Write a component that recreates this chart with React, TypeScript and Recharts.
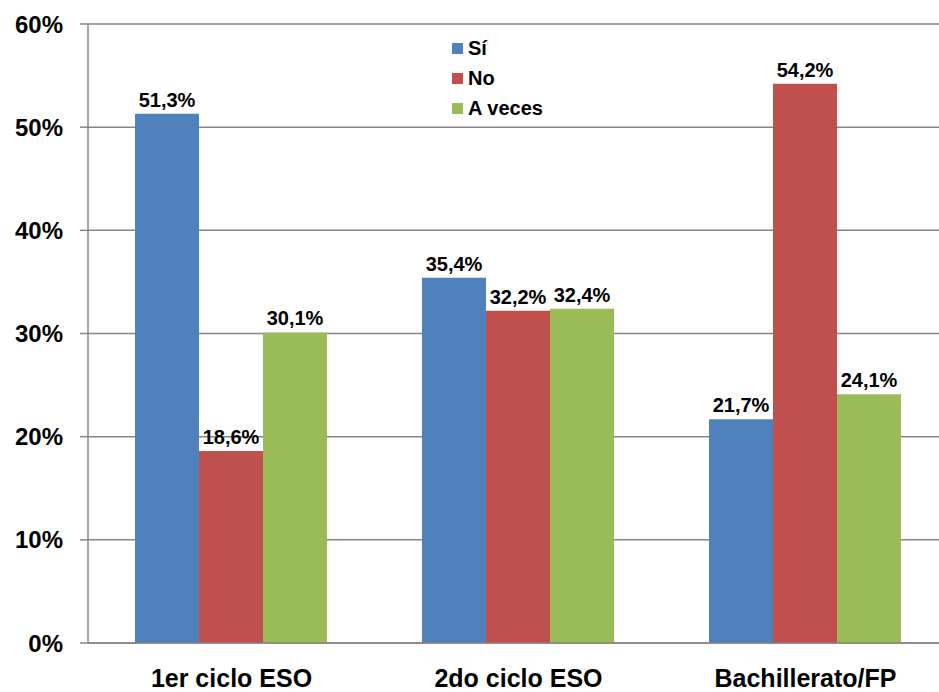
import React from 'react';
import { BarChart, Bar, XAxis, YAxis, CartesianGrid, LabelList } from 'recharts';

const categories = ['1er ciclo ESO', '2do ciclo ESO', 'Bachillerato/FP'];
const si = [51.3, 35.4, 21.7];
const no = [18.6, 32.2, 54.2];
const aVeces = [30.1, 32.4, 24.1];
const yTicks = [0, 10, 20, 30, 40, 50, 60];
const boundaryTicks = [0, 1, 2, 3];

const seriesKeys = ['si', 'no', 'av'];
const seriesNames = ['Sí', 'No', 'A veces'];
const colors = ['#4F81BD', '#C0504D', '#9BBB59'];

const data = categories.map((c, i) => ({ cat: c, idx: i + 0.5, si: si[i], no: no[i], av: aVeces[i] }));

const FONT = '"Liberation Sans", Arial, sans-serif';
const GRID = '#868686';

const fmt = (v: number) => v.toFixed(1).replace('.', ',') + '%';

const CatTick = (props: any) => {
  const { x, y, payload } = props;
  return (
    <text x={x} y={y + 44} textAnchor="middle" fontFamily={FONT} fontWeight="bold" fontSize={25} fill="#000">
      {payload.value}
    </text>
  );
};

export default function App() {
  return (
    <div style={{ position: 'absolute', left: 0, top: 0, width: 939, height: 692, overflow: 'hidden', background: '#fff' }}>
      <BarChart
        width={960}
        height={692}
        data={data}
        margin={{ top: 24, right: 11, left: 0, bottom: 0 }}
        barCategoryGap={47}
        barGap={0}
      >
        <CartesianGrid vertical={false} stroke={GRID} strokeWidth={1.5} />
        <XAxis
          xAxisId="ticks"
          type="number"
          dataKey="idx"
          domain={[0, 3]}
          ticks={boundaryTicks}
          tick={false}
          axisLine={false}
          tickSize={9}
          tickLine={{ stroke: GRID, strokeWidth: 1.5 }}
          height={0}
        />
        <XAxis
          xAxisId="cat"
          dataKey="cat"
          tick={<CatTick />}
          tickLine={false}
          tickSize={0}
          tickMargin={0}
          axisLine={{ stroke: GRID, strokeWidth: 1.5 }}
          height={49}
          interval={0}
        />
        <YAxis
          domain={[0, 60]}
          ticks={yTicks}
          width={88}
          tickSize={8}
          tickMargin={17}
          tickFormatter={(v: number) => v + '%'}
          tick={{ fontFamily: FONT, fontWeight: 'bold', fontSize: 24, fill: '#000' }}
          axisLine={{ stroke: GRID, strokeWidth: 1.5 }}
          tickLine={{ stroke: GRID, strokeWidth: 1.5 }}
        />
        {seriesKeys.map((k, i) => (
          <Bar key={k} xAxisId="cat" dataKey={k} name={seriesNames[i]} fill={colors[i]} isAnimationActive={false}>
            <LabelList
              dataKey={k}
              position="top"
              offset={7}
              formatter={(v: any) => fmt(Number(v))}
              style={{ fontFamily: FONT, fontWeight: 'bold', fontSize: 20, fill: '#000' }}
            />
          </Bar>
        ))}
      </BarChart>
      <div style={{ position: 'absolute', left: 452, top: 33, fontFamily: FONT, fontWeight: 'bold', fontSize: 20 }}>
        {seriesNames.map((n, i) => (
          <div key={n} style={{ display: 'flex', alignItems: 'center', height: 30 }}>
            <div style={{ width: 11, height: 11, background: colors[i], marginRight: 5 }} />
            <span style={{ color: '#000' }}>{n}</span>
          </div>
        ))}
      </div>
    </div>
  );
}
